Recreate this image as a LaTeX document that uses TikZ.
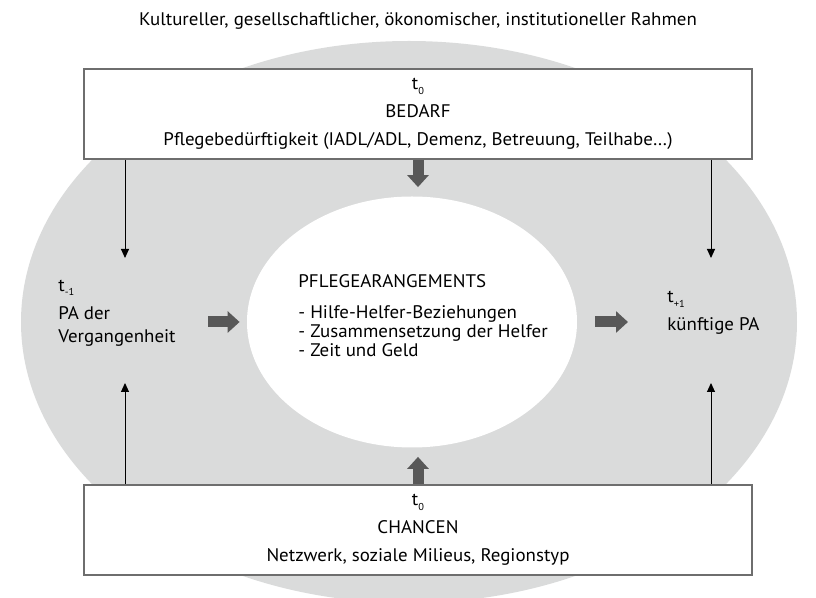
\documentclass[tikz,border=0pt]{standalone}
\usepackage{fontspec}
\setmainfont[FakeStretch=1.04]{PT Sans}
\usetikzlibrary{arrows.meta,shapes.geometric}

\definecolor{ring}{RGB}{218,219,219}
\definecolor{frame}{RGB}{110,110,110}
\definecolor{bigarrow}{RGB}{88,88,88}

\newcommand{\tidx}[1]{t\raisebox{-0.5ex}{\scalebox{0.55}{#1}}}

\tikzset{
  box/.style={draw=frame, line width=0.8pt, fill=white, minimum width=334pt,
    minimum height=45pt, align=center, inner sep=0pt,
    font=\fontsize{9.1}{14}\selectfont},
  side/.style={align=left, anchor=west, inner sep=0pt,
    font=\fontsize{9.1}{11.5}\selectfont},
  thinarrow/.style={-{Triangle[width=4pt,length=4.5pt]}, line width=0.5pt},
  fatarrow/.style={-{Triangle[width=10.5pt,length=6pt]}, line width=5.5pt, bigarrow},
}

\begin{document}
\begin{tikzpicture}[x=0.5pt, y=-0.5pt, font=\fontsize{9.1}{10}\selectfont]
  \useasboundingbox (0,0) rectangle (816,598);

  % Rahmen
  \node (rahmen) at (418,21) {Kultureller, gesellschaftlicher, ökonomischer, institutioneller Rahmen};
  \fill[ring] (409,322) ellipse [x radius=388, y radius=281];

  % Pflegearrangements
  \node (pa) at (412,322) [ellipse, fill=white, minimum width=165pt, minimum height=125.5pt] {};
  \node (palist) at (298,316) [side, font=\fontsize{9.1}{9.5}\selectfont]
    {PFLEGEARANGEMENTS\\[6pt]- Hilfe-Helfer-Beziehungen\\- Zusammensetzung der Helfer\\- Zeit und Geld};

  % Bedarf und Chancen
  \node (bedarf) at (418,114) [box]
    {\tidx{0}\\BEDARF\\Pflegebedürftigkeit (IADL/ADL, Demenz, Betreuung, Teilhabe\dots)};
  \node (chancen) at (418,530) [box]
    {\tidx{0}\\CHANCEN\\Netzwerk, soziale Milieus, Regionstyp};

  % vorher / nachher
  \node (past)   at (58,313)  [side] {\tidx{-1}\\[2.5pt]PA der\\Vergangenheit};
  \node (future) at (667,313) [side] {\tidx{+1}\\[2.5pt]künftige PA};

  \coordinate (pastin)  at (125,258);
  \coordinate (pastout) at (125,383);
  \coordinate (futin)   at (711,258);
  \coordinate (futout)  at (711,383);

  \draw[thinarrow] (bedarf.south -| pastin)   -- (pastin);
  \draw[thinarrow] (chancen.north -| pastout) -- (pastout);
  \draw[thinarrow] (bedarf.south -| futin)    -- (futin);
  \draw[thinarrow] (chancen.north -| futout)  -- (futout);

  \draw[fatarrow, shorten >=4.5pt] (bedarf.south) -- (bedarf.south |- pa.north);
  \draw[fatarrow, shorten >=4.5pt] (chancen.north) -- (chancen.north |- pa.south);
  \draw[fatarrow, shorten <=16pt, shorten >=3.5pt] (past.east |- pa.west) -- (pa.west);
  \draw[fatarrow, shorten <=9pt, shorten >=19.5pt] (pa.east) -- (pa.east -| future.west);
\end{tikzpicture}
\end{document}
